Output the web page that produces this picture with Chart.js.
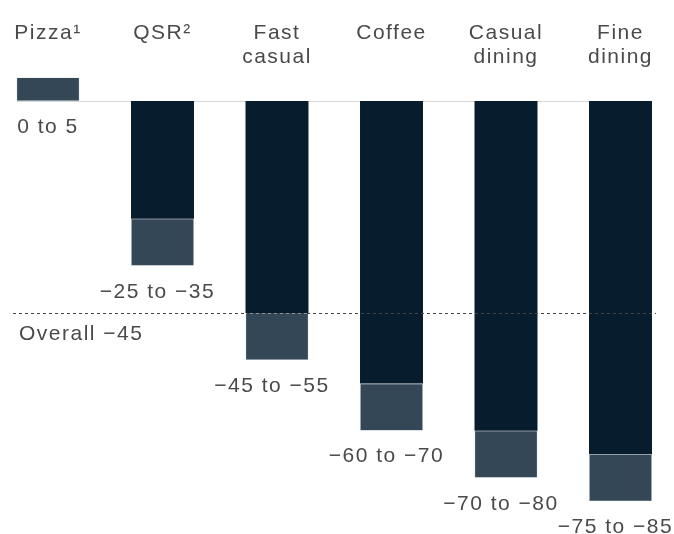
<!DOCTYPE html>
<html>
<head>
<meta charset="utf-8">
<script src="https://cdn.jsdelivr.net/npm/chart.js@4"></script>
<style>
  html, body { margin: 0; padding: 0; background: #fff; }
  #wrap { width: 674px; height: 534px; position: relative; }
</style>
</head>
<body>
<div id="wrap"><canvas id="salesChart"></canvas></div>
<script>
// segments, categories and their expected change ranges (%)
const categories = ["Pizza¹", "QSR²", ["Fast", "casual"], "Coffee", ["Casual", "dining"], ["Fine", "dining"]];
const rangeStart = [0, -25, -45, -60, -70, -75];
const rangeEnd = [5, -35, -55, -70, -80, -85];
const rangeLabels = ["0 to 5", "−25 to −35", "−45 to −55", "−60 to −70", "−70 to −80", "−75 to −85"];
const overall = -45;
const overallLabel = "Overall −45";

const DARK = "#071d2e";
const LIGHT = "#344757";
const TEXT = "#4a4a4a";
const FONT = '21px "Liberation Sans", Arial, sans-serif';

// solid part runs from zero to the start of the range
const baseBars = rangeStart.map((v) => (v === 0 ? null : [0, v]));
const rangeBars = rangeStart.map((v, i) => [v, rangeEnd[i]]);

const textPlugin = {
  id: "textPlugin",
  beforeDatasetsDraw(chart) {
    const { ctx, scales: { x, y } } = chart;
    const step = x.getPixelForValue(1) - x.getPixelForValue(0);
    const w = step * 0.55 / 2;
    const zy = Math.round(y.getPixelForValue(0)) + 0.5;
    ctx.save();
    ctx.strokeStyle = "#d8d8d8";
    ctx.lineWidth = 1;
    ctx.beginPath();
    ctx.moveTo(x.getPixelForValue(0) - w, zy);
    ctx.lineTo(x.getPixelForValue(categories.length - 1) + w, zy);
    ctx.stroke();
    ctx.restore();
  },
  afterDatasetsDraw(chart) {
    const { ctx, scales: { x, y } } = chart;
    ctx.save();
    ctx.font = FONT;
    ctx.fillStyle = TEXT;
    ctx.letterSpacing = "1.5px";

    // category names along the top
    ctx.textAlign = "center";
    ctx.textBaseline = "middle";
    categories.forEach((c, i) => {
      const lines = Array.isArray(c) ? c : [c];
      lines.forEach((line, j) => ctx.fillText(line, x.getPixelForValue(i), 33 + j * 24));
    });

    // range labels under each bar
    rangeLabels.forEach((t, i) => {
      const bottom = y.getPixelForValue(Math.min(rangeStart[i], rangeEnd[i]));
      const shift = i === 0 ? 0 : -5;
      ctx.fillText(t, x.getPixelForValue(i) + shift, bottom + 26);
    });

    // overall reference line
    const oy = Math.round(y.getPixelForValue(overall)) + 0.5;
    ctx.strokeStyle = "#444";
    ctx.lineWidth = 1;
    ctx.setLineDash([3, 3]);
    ctx.beginPath();
    ctx.moveTo(13, oy);
    ctx.lineTo(656, oy);
    ctx.stroke();
    ctx.textAlign = "left";
    ctx.fillText(overallLabel, 19, oy + 21);
    ctx.restore();
  },
};

new Chart(document.getElementById("salesChart"), {
  type: "bar",
  data: {
    labels: categories,
    datasets: [
      {
        data: baseBars,
        backgroundColor: DARK,
        grouped: false,
        clip: false,
        barPercentage: 0.55,
        categoryPercentage: 1,
      },
      {
        data: rangeBars,
        backgroundColor: LIGHT,
        borderColor: "#c9ced3",
        borderWidth: 0.6,
        borderSkipped: false,
        grouped: false,
        clip: false,
        barPercentage: 0.55,
        categoryPercentage: 1,
      },
    ],
  },
  options: {
    responsive: true,
    maintainAspectRatio: false,
    animation: false,
    layout: { padding: { left: 48, right: 53.5, top: 16.2, bottom: 9.1 } },
    plugins: { legend: { display: false }, tooltip: { enabled: false } },
    scales: {
      x: { display: false, offset: false },
      y: { display: false, min: -90, max: 18 },
    },
  },
  plugins: [textPlugin],
});
</script>
</body>
</html>
